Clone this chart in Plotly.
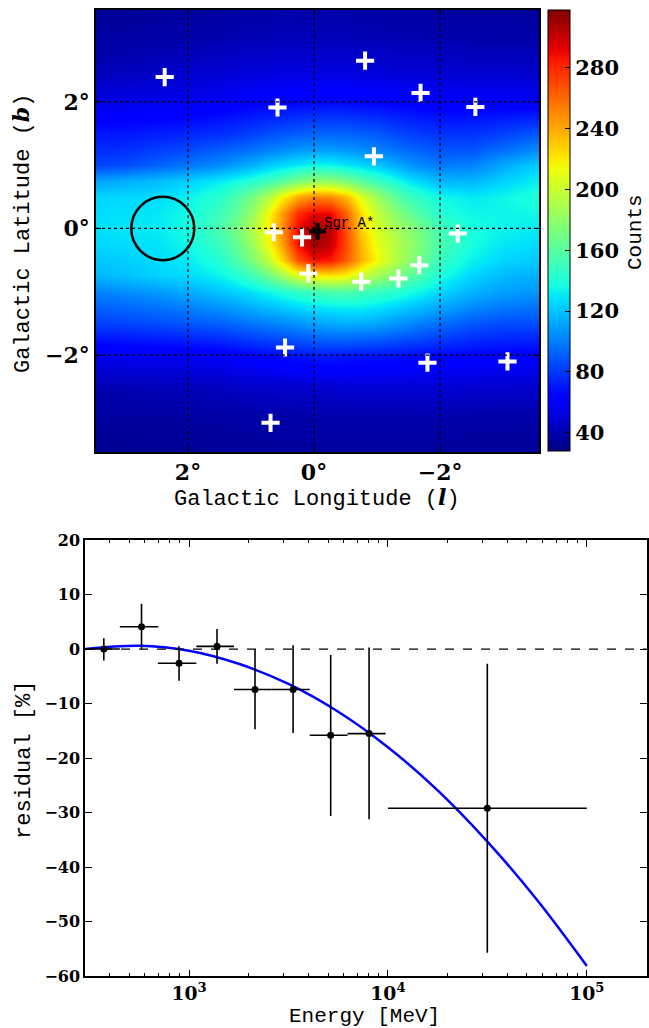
import plotly.graph_objects as go

W, H = 649, 1028

# ---------------- Counts map around the Galactic Centre ----------------
# finer sampling across the bright central region
lon = [3.5, 3.0, 2.5, 2.0, 1.5, 1.25, 1.0, 0.75, 0.5, 0.25, 0.0,
       -0.25, -0.5, -0.75, -1.0, -1.25, -1.5, -2.0, -2.5, -3.0, -3.5]
lat = [-3.5, -3.0, -2.5, -2.0, -1.5, -1.25, -1.0, -0.75, -0.5, -0.25, 0.0,
       0.25, 0.5, 0.75, 1.0, 1.25, 1.5, 2.0, 2.5, 3.0, 3.5]

# counts[i][j] -> latitude lat[i], longitude lon[j]
counts = [
    [33, 33, 34, 34, 35, 35, 35, 35, 36, 36, 36, 36, 36, 36, 36, 36, 36, 36, 35, 35, 35],
    [36, 36, 36, 37, 37, 37, 38, 38, 38, 38, 39, 39, 39, 39, 39, 39, 39, 39, 38, 38, 38],
    [41, 41, 42, 43, 44, 45, 46, 46, 47, 47, 48, 48, 49, 49, 49, 49, 49, 49, 48, 48, 47],
    [56, 57, 57, 58, 60, 62, 64, 66, 68, 70, 72, 72, 71, 70, 70, 69, 68, 66, 64, 63, 62],
    [82, 84, 86, 89, 92, 95, 98, 101, 104, 107, 110, 113, 115, 114, 112, 108, 104, 96, 89, 86, 86],
    [91, 93, 96, 100, 106, 109, 113, 117, 121, 125, 128, 130, 131, 131, 128, 124, 120, 111, 103, 98, 96],
    [101, 104, 108, 113, 120, 124, 128, 134, 140, 145, 150, 155, 155, 152, 148, 143, 138, 126, 115, 110, 107],
    [116, 119, 124, 127, 133, 140, 150, 165, 185, 205, 215, 220, 215, 200, 185, 175, 162, 138, 125, 117, 114],
    [121, 123, 127, 131, 142, 155, 172, 195, 228, 268, 288, 285, 265, 238, 215, 195, 180, 148, 133, 125, 122],
    [125, 127, 129, 135, 150, 163, 183, 210, 245, 288, 310, 302, 270, 235, 210, 195, 182, 155, 138, 130, 127],
    [128, 130, 131, 138, 155, 170, 190, 215, 250, 290, 312, 305, 268, 228, 205, 190, 178, 152, 138, 134, 131],
    [127, 128, 130, 136, 150, 162, 180, 210, 245, 278, 290, 290, 262, 225, 198, 180, 165, 142, 134, 134, 135],
    [125, 126, 127, 133, 144, 155, 170, 190, 218, 240, 252, 250, 235, 208, 185, 165, 150, 135, 131, 134, 140],
    [111, 114, 118, 124, 131, 136, 142, 150, 160, 172, 180, 180, 172, 160, 150, 140, 130, 117, 116, 124, 132],
    [83, 86, 92, 98, 104, 109, 114, 121, 126, 131, 135, 134, 130, 126, 121, 114, 107, 99, 101, 112, 122],
    [76, 77, 81, 85, 90, 93, 96, 100, 103, 106, 108, 108, 106, 104, 101, 97, 93, 87, 88, 95, 103],
    [70, 70, 72, 74, 77, 79, 82, 85, 88, 90, 92, 92, 92, 90, 89, 85, 82, 78, 78, 82, 88],
    [53, 54, 55, 56, 58, 60, 62, 63, 64, 65, 66, 66, 66, 65, 64, 63, 62, 60, 60, 60, 58],
    [42, 43, 45, 47, 48, 49, 50, 50, 51, 51, 51, 51, 51, 50, 50, 49, 49, 48, 47, 47, 46],
    [37, 37, 38, 39, 40, 41, 42, 42, 43, 43, 43, 43, 43, 42, 42, 41, 41, 40, 39, 39, 39],
    [34, 34, 35, 36, 36, 36, 37, 37, 38, 38, 38, 38, 38, 37, 37, 37, 37, 36, 36, 36, 35],
]
counts_min, counts_max = 28, 318
cbar_ticks = [40, 80, 120, 160, 200, 240, 280]

# catalogue point sources
src_l = [2.37, 0.58, -0.81, -1.69, -2.56, -0.95, 0.64, 0.19, 0.09, -0.75,
         -1.34, -1.67, -2.28, 0.46, 0.69, -1.80, -3.07]
src_b = [2.39, 1.91, 2.65, 2.14, 1.92, 1.14, -0.06, -0.14, -0.71, -0.84,
         -0.79, -0.58, -0.08, -1.88, -3.07, -2.12, -2.10]

sgr_l, sgr_b = -0.056, -0.046          # Sgr A*
roi_l, roi_b, roi_r = 2.4, 0.0, 0.5    # background region

deg_ticks = [2, 0, -2]
deg_text = ["2°", "0°", "\u22122°"]

# ---------------- Spectral residuals ----------------
e_center = [373, 577, 891, 1383, 2147, 3336, 5155, 8040, 31600]
e_lo = [300, 449, 697, 1089, 1683, 2594, 4046, 6266, 10000]
e_hi = [449, 701, 1089, 1683, 2594, 4046, 6266, 9730, 100000]
resid = [0.0, 4.1, -2.6, 0.5, -7.4, -7.4, -15.8, -15.5, -29.2]
err_up = [2.0, 4.2, 3.1, 3.2, 7.4, 8.1, 14.7, 15.8, 26.5]
err_dn = [2.1, 4.1, 3.2, 3.2, 7.3, 8.0, 14.8, 15.7, 26.5]

curve_E = [300, 562, 1000, 1778, 3162, 5623, 10000, 17783, 31623, 56234, 100000]
curve_resid = [0.0, 0.6, -0.3, -2.7, -6.4, -11.5, -18.0, -25.9, -35.3, -46.0, -58.1]

# matplotlib-style "jet"
jet = [
    [0.0, "rgb(0,0,128)"], [0.11, "rgb(0,0,255)"], [0.125, "rgb(0,0,255)"],
    [0.34, "rgb(0,219,255)"], [0.35, "rgb(0,230,247)"], [0.375, "rgb(21,255,226)"],
    [0.64, "rgb(239,255,8)"], [0.65, "rgb(247,246,0)"], [0.66, "rgb(255,236,0)"],
    [0.89, "rgb(255,19,0)"], [0.91, "rgb(232,0,0)"], [1.0, "rgb(128,0,0)"],
]

SERIF = "DejaVu Serif"
MONO = "Liberation Mono"


def px(x):
    return x / W


def py(y):
    return 1 - y / H


fig = go.Figure()

fig.add_trace(go.Heatmap(
    x=lon, y=lat, z=counts, zsmooth="best", colorscale=jet,
    zmin=counts_min, zmax=counts_max, xaxis="x", yaxis="y",
    colorbar=dict(
        x=px(548), xanchor="left", y=py(10), yanchor="top",
        len=441 / H, lenmode="fraction", thickness=22, thicknessmode="pixels",
        xpad=0, ypad=0, outlinecolor="black", outlinewidth=1,
        ticks="inside", ticklen=5, tickcolor="black", tickvals=cbar_ticks,
        tickfont=dict(family=SERIF, size=21, weight="bold", color="black"),
    ),
))

fig.add_trace(go.Scatter(
    x=src_l, y=src_b, mode="markers", xaxis="x", yaxis="y",
    marker=dict(symbol="cross-thin", size=13, color="white",
                line=dict(color="white", width=4)),
    hoverinfo="skip", showlegend=False,
))
fig.add_trace(go.Scatter(
    x=[sgr_l], y=[sgr_b], mode="markers", xaxis="x", yaxis="y",
    marker=dict(symbol="cross-thin", size=12, color="black",
                line=dict(color="black", width=4)),
    hoverinfo="skip", showlegend=False,
))

# residual panel
fig.add_trace(go.Scatter(
    x=curve_E, y=curve_resid, mode="lines", xaxis="x2", yaxis="y2",
    line=dict(color="rgb(0,0,255)", width=2.5, shape="spline"),
    showlegend=False,
))
fig.add_trace(go.Scatter(
    x=e_center, y=resid, mode="markers", xaxis="x2", yaxis="y2",
    marker=dict(color="black", size=7),
    error_x=dict(type="data", symmetric=False,
                 array=[h - c for h, c in zip(e_hi, e_center)],
                 arrayminus=[c - l for c, l in zip(e_center, e_lo)],
                 color="black", thickness=1.6, width=0),
    error_y=dict(type="data", symmetric=False, array=err_up, arrayminus=err_dn,
                 color="black", thickness=1.6, width=0),
    showlegend=False,
))

shapes = []
for v in deg_ticks:
    shapes.append(dict(type="line", xref="x", yref="y domain", x0=v, x1=v, y0=0, y1=1,
                       line=dict(color="black", width=1.2, dash="dot")))
    shapes.append(dict(type="line", xref="x domain", yref="y", x0=0, x1=1, y0=v, y1=v,
                       line=dict(color="black", width=1.2, dash="dot")))
shapes.append(dict(type="circle", xref="x", yref="y",
                   x0=roi_l - roi_r, x1=roi_l + roi_r, y0=roi_b - roi_r, y1=roi_b + roi_r,
                   line=dict(color="black", width=2.5)))
shapes.append(dict(type="line", xref="x2 domain", yref="y2", x0=0, x1=1, y0=0, y1=0,
                   line=dict(color="black", width=1.2, dash="dash")))

tick_top = dict(family=SERIF, size=22, weight="bold", color="black")
tick_bot = dict(family=SERIF, size=16, weight="bold", color="black")
frame = dict(showline=True, linecolor="black", linewidth=1.5, mirror="ticks",
             ticks="inside", tickcolor="black", showgrid=False, zeroline=False,
             automargin=False)

fig.update_layout(
    template="none",
    width=W, height=H, margin=dict(l=0, r=0, t=0, b=0, pad=0, autoexpand=False),
    paper_bgcolor="white", plot_bgcolor="white", showlegend=False,
    xaxis=dict(domain=[px(96), px(539)], anchor="y", range=[3.46, -3.57],
               tickvals=deg_ticks, ticktext=deg_text, ticklen=5,
               tickfont=tick_top, **frame),
    yaxis=dict(domain=[py(452), py(10)], anchor="x", range=[-3.53, 3.45],
               tickvals=deg_ticks, ticktext=deg_text, ticklen=5,
               tickfont=tick_top, **frame),
    xaxis2=dict(domain=[px(85), px(646.7)], anchor="y2", type="log",
                range=[2.4771, 5.301], tickmode="linear", tick0=0, dtick=1,
                exponentformat="power", showexponent="all", ticklen=7,
                minor=dict(dtick="D1", ticks="inside", ticklen=3.5,
                           tickcolor="black", showgrid=False),
                tickfont=dict(family=SERIF, size=15, weight="bold", color="black"),
                **frame),
    yaxis2=dict(domain=[py(976.3), py(540)], anchor="x2", range=[-60, 20],
                dtick=10, ticklen=7, tickfont=tick_bot, **frame),
    shapes=shapes,
    annotations=[
        dict(text="Sgr A*", x=sgr_l, y=sgr_b, xref="x", yref="y",
             xanchor="left", yanchor="middle", xshift=4, yshift=8, showarrow=False,
             font=dict(family=MONO, size=14, color="black")),
        dict(text="Galactic Longitude (<b><i><span style='font-family:DejaVu Serif'>l</span></i></b>)",
             x=px(317), y=py(498), xref="paper", yref="paper",
             xanchor="center", yanchor="middle", showarrow=False,
             font=dict(family=MONO, size=22, color="black")),
        dict(text="Galactic Latitude (<b><i><span style='font-family:DejaVu Serif'>b</span></i></b>)",
             x=px(22), y=py(234), xref="paper", yref="paper", textangle=-90,
             xanchor="center", yanchor="middle", showarrow=False,
             font=dict(family=MONO, size=22, color="black")),
        dict(text="Counts", x=px(636), y=py(232), xref="paper", yref="paper",
             textangle=-90, xanchor="center", yanchor="middle", showarrow=False,
             font=dict(family=MONO, size=21, color="black")),
        dict(text="residual [%]", x=px(24), y=py(760), xref="paper", yref="paper",
             textangle=-90, xanchor="center", yanchor="middle", showarrow=False,
             font=dict(family=MONO, size=22, color="black")),
        dict(text="Energy [MeV]", x=px(364), y=py(1016), xref="paper", yref="paper",
             xanchor="center", yanchor="middle", showarrow=False,
             font=dict(family=MONO, size=21, color="black")),
    ],
)

fig.write_html("out.html")
